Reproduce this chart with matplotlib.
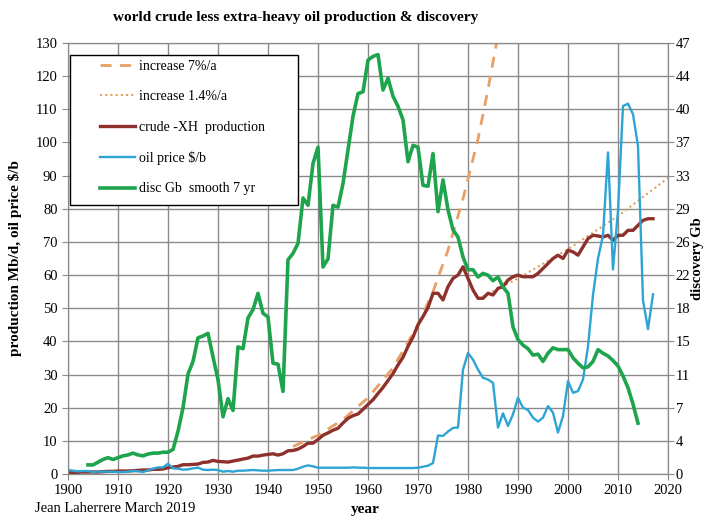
import numpy as np
import matplotlib
matplotlib.use("Agg")
from matplotlib import pyplot as plt
from matplotlib.patches import Rectangle

plt.rcParams['font.family'] = ['Liberation Serif', 'DejaVu Serif']

# production crude less extra-heavy, Mb/d, 1900-2017
prod_years = np.arange(1900, 2018)
production = [0.4, 0.5, 0.5, 0.6, 0.6, 0.6, 0.6, 0.7, 0.8, 0.8,
              0.9, 0.9, 0.9, 1.0, 1.1, 1.2, 1.2, 1.4, 1.4, 1.5,
              1.9, 2.1, 2.3, 2.8, 2.8, 2.9, 3.0, 3.5, 3.6, 4.1,
              3.8, 3.7, 3.6, 3.9, 4.2, 4.5, 4.8, 5.4, 5.4, 5.7,
              5.9, 6.1, 5.7, 6.1, 7.0, 7.1, 7.5, 8.3, 9.3, 9.3,
              10.4, 11.7, 12.4, 13.2, 13.8, 15.4, 16.8, 17.6, 18.1, 19.5,
              21.0, 22.4, 24.3, 26.1, 28.2, 30.3, 32.9, 35.2, 38.5, 41.3,
              45.0, 47.5, 50.2, 54.5, 54.5, 52.5, 56.5, 59.0, 60.0, 62.5,
              59.0, 55.5, 53.0, 53.0, 54.5, 54.0, 56.0, 56.5, 58.5, 59.5,
              60.0, 59.5, 59.5, 59.5, 60.5, 62.0, 63.5, 65.0, 66.0, 65.0,
              67.5, 67.0, 66.0, 68.5, 71.0, 72.0, 71.8, 71.5, 72.0, 70.5,
              72.0, 72.0, 73.5, 73.5, 75.0, 76.5, 77.0, 77.0]

# oil price $/b, 1900-2017
price = [1.2, 1.0, 0.8, 0.9, 0.9, 0.6, 0.7, 0.7, 0.7, 0.7,
         0.6, 0.6, 0.7, 1.0, 0.8, 0.6, 1.1, 1.6, 2.0, 2.0,
         3.1, 1.7, 1.6, 1.3, 1.4, 1.7, 1.9, 1.3, 1.2, 1.3,
         1.2, 0.7, 0.9, 0.7, 1.0, 1.0, 1.1, 1.2, 1.1, 1.0,
         1.0, 1.1, 1.2, 1.2, 1.2, 1.2, 1.6, 2.2, 2.6, 2.3,
         1.9, 1.9, 1.9, 1.9, 1.9, 1.9, 1.9, 2.0, 1.9, 1.9,
         1.8, 1.8, 1.8, 1.8, 1.8, 1.8, 1.8, 1.8, 1.8, 1.8,
         1.9, 2.2, 2.5, 3.3, 11.6, 11.5, 12.8, 13.9, 14.0, 31.5,
         36.5, 34.5, 31.5, 29.0, 28.5, 27.5, 14.0, 18.3, 14.5, 18.0,
         23.0, 20.0, 19.3, 17.0, 15.8, 17.0, 20.5, 18.5, 12.5, 17.5,
         28.0, 24.5, 25.0, 28.5, 38.5, 54.0, 65.0, 72.0, 97.0, 61.7,
         79.5, 111.0, 111.7, 108.5, 98.9, 52.4, 43.7, 54.2]

# discovery Gb smooth 7 yr, 1904-2014
disc_years = np.arange(1904, 2015)
discovery = [1.0, 1.0, 1.3, 1.6, 1.8, 1.6,
             1.8, 2.0, 2.1, 2.3, 2.1, 2.0, 2.2, 2.3, 2.3, 2.4,
             2.4, 2.7, 4.7, 7.3, 11.0, 12.4, 15.0, 15.2, 15.5, 12.9,
             10.4, 6.3, 8.3, 7.0, 14.0, 13.8, 17.2, 18.1, 19.9, 17.7,
             17.3, 12.2, 12.1, 9.1, 23.6, 24.3, 25.4, 30.4, 29.6, 34.2,
             36.0, 22.8, 23.7, 29.6, 29.4, 32.0, 35.7, 39.4, 41.9, 42.1,
             45.6, 46.0, 46.2, 42.3, 43.6, 41.6, 40.5, 39.0, 34.4, 36.2,
             36.0, 31.8, 31.7, 35.3, 28.9, 32.4, 29.1, 26.9, 26.1, 23.9,
             22.5, 22.5, 21.7, 22.1, 21.9, 21.3, 21.7, 20.6, 19.9, 16.2,
             14.8, 14.2, 13.8, 13.1, 13.2, 12.4, 13.3, 13.9, 13.7, 13.7,
             13.7, 12.8, 12.2, 11.7, 11.8, 12.4, 13.7, 13.3, 13.0, 12.5,
             11.9, 10.8, 9.5, 7.7, 5.6]

# trend lines
inc7_years = [1945, 1950, 1955, 1960, 1965, 1970, 1973, 1976, 1979, 1982, 1984, 1985.7]
inc7 = [8.3, 11.7, 16.4, 23.0, 32.0, 45.0, 55.0, 67.5, 83.0, 101.0, 116.0, 130.0]
inc14_years = [1983, 1990, 2000, 2010, 2020]
inc14 = [53.5, 59.0, 67.8, 77.8, 89.3]

right_labels = ['0', '4', '7', '11', '15', '18', '22', '26', '29', '33', '37', '40', '44', '47']

fig = plt.figure(figsize=(7.03, 5.20), dpi=100)
ax = fig.add_axes([68/703, 1 - 474/520, 600/703, 431/520])

grid_c = '#8a8a8a'
ax.set_xlim(1900, 2020)
ax.set_ylim(0, 130)
ax.set_xticks(np.arange(1900, 2021, 10))
ax.set_yticks(np.arange(0, 131, 10))
ax.grid(True, color=grid_c, linewidth=1.0)
ax.set_axisbelow(True)
for s in ax.spines.values():
    s.set_color(grid_c)
ax.tick_params(colors=grid_c, labelcolor='black', labelsize=10.5, length=4)

l1, = ax.plot(inc7_years, inc7, color='#e8a066', linestyle=(0, (4, 3)), linewidth=2.0,
              label='increase 7%/a')
l2, = ax.plot(inc14_years, inc14, color='#e0a060', linestyle=(0, (1, 1.5)), linewidth=1.5,
              label='increase 1.4%/a')
l3, = ax.plot(prod_years, production, color='#8e302c', linewidth=2.4,
              label='crude -XH  production')
l4, = ax.plot(prod_years, price, color='#2ea4d4', linewidth=1.7, label='oil price $/b')

ax2 = ax.twinx()
ax2.set_ylim(0, 130 * 0.3652)
ax2.set_yticks(np.arange(14) * 10 * 0.3652)
ax2.set_yticklabels(right_labels)
ax2.tick_params(colors=grid_c, labelcolor='black', labelsize=10.5, length=4, pad=1.5)
for s in ax2.spines.values():
    s.set_color(grid_c)
l5, = ax2.plot(disc_years, discovery, color='#1ea44c', linewidth=2.6,
               label='disc Gb  smooth 7 yr')

ax.set_ylabel('production Mb/d, oil price $/b', fontsize=11, fontweight='bold')
ax.yaxis.set_label_coords(-0.077, 0.5)
ax2.set_ylabel('discovery Gb', fontsize=10.5, fontweight='bold', rotation=90)
ax2.yaxis.set_label_coords((691 - 68) / 600, 0.5)

# legend box
box = Rectangle(((70 - 68) / 600, (474 - 205) / 431), 228 / 600, 150 / 431,
                transform=ax2.transAxes, facecolor='white', edgecolor='black',
                linewidth=1.0, zorder=5)
ax2.add_patch(box)
leg = ax2.legend([l1, l2, l3, l4, l5], [h.get_label() for h in [l1, l2, l3, l4, l5]],
                 loc='upper left', bbox_to_anchor=((100 - 68) / 600, (474 - 60) / 431),
                 frameon=False, fontsize=10, borderpad=0, borderaxespad=0,
                 handlelength=2.5, handletextpad=0.3, labelspacing=1.25)
leg.set_zorder(6)

fig.text(113 / 703, 1 - 18 / 520, 'world crude less extra-heavy oil production & discovery',
         fontsize=11, fontweight='bold', va='center', ha='left')
fig.text(35 / 703, 1 - 509 / 520, 'Jean Laherrere March 2019', fontsize=10.5,
         va='center', ha='left')
fig.text(365 / 703, 1 - 509 / 520, 'year', fontsize=11, fontweight='bold',
         va='center', ha='center')

fig.savefig('out.png', dpi=100)
